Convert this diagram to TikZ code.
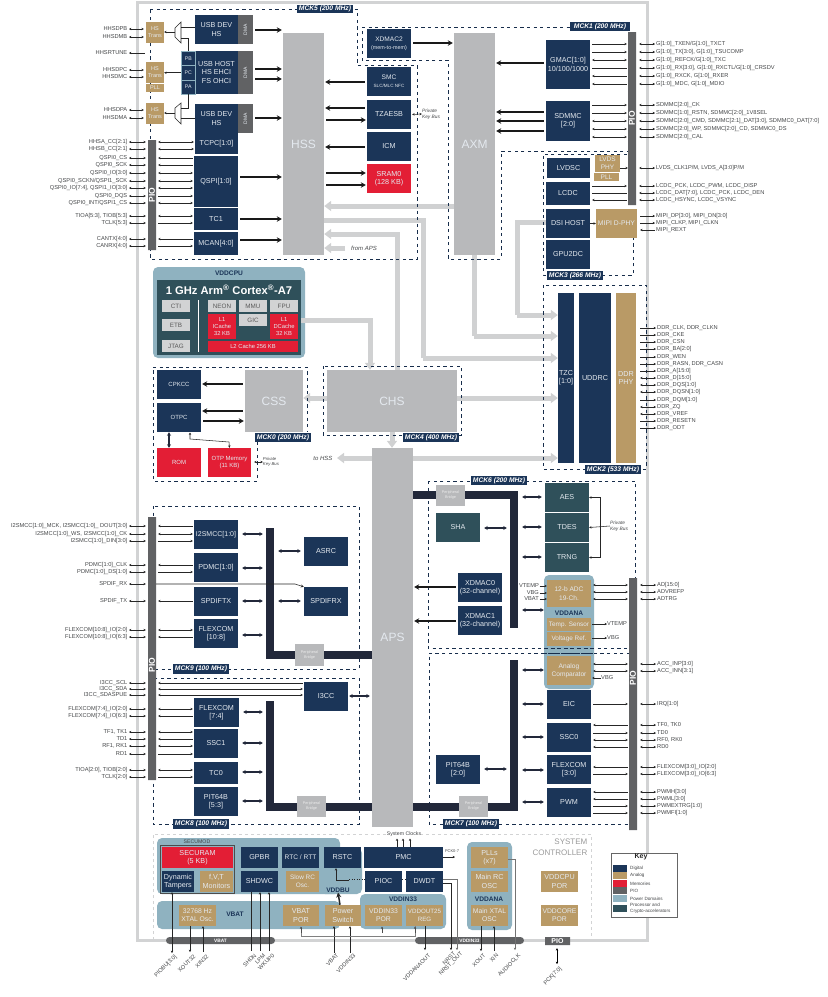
\documentclass[tikz,border=0pt]{standalone}
\usepackage{fontspec}
\setmainfont{Liberation Sans}
\usetikzlibrary{arrows.meta,shapes.misc,calc}
\pgfdeclarelayer{back}\pgfdeclarelayer{bus}\pgfsetlayers{back,bus,main}
\definecolor{cnv}{HTML}{1B3558}
\definecolor{ctn}{HTML}{B99A66}
\definecolor{crd}{HTML}{E31E35}
\definecolor{cpio}{HTML}{616264}
\definecolor{cdom}{HTML}{8FB2C0}
\definecolor{ccry}{HTML}{2F505A}
\definecolor{chub}{HTML}{B8B9BB}
\definecolor{cbus}{HTML}{D0D1D2}
\definecolor{cbar}{HTML}{22283A}
\definecolor{cfr}{HTML}{D2D3D4}
\definecolor{clab}{HTML}{444648}
\definecolor{ctx}{HTML}{E4E9EF}
\newcommand{\fs}[2]{\fontsize{#1}{#2}\selectfont}
\newcommand{\mybx}[7]{%
  \pgfmathsetmacro\bxw{#5-#3}\pgfmathsetmacro\bxh{#6-#4}%
  \pgfmathsetmacro\bxx{(#5+#3)/2}\pgfmathsetmacro\bxy{(#6+#4)/2}%
  \node[#1,minimum width=\bxw pt,minimum height=\bxh pt] (#2) at (\bxx,\bxy) {#7};}
\newcommand{\mylin}[4][pn]{\draw[#1,shorten <=2pt,shorten >=1pt] (#2 |- 0,#4) -- (#3 |- 0,#4);}
\newcount\pincnt
\tikzset{
  base/.style={inner sep=0pt,align=center,text=ctx,font=\fs{7.2}{8.4}},
  dig/.style={base,fill=cnv},
  ana/.style={base,fill=ctn},
  mem/.style={base,fill=crd},
  cry/.style={base,fill=ccry},
  dma/.style={base,fill=cpio},
  hub/.style={base,fill=chub,font=\fs{12}{14}},
  brg/.style={base,fill=chub,font=\fs{3.8}{5},text=white!85!gray},
  barf/.style={inner sep=0pt,fill=cbar},
  core/.style={base,fill=cfr,text=black!65,font=\fs{6.3}{7.5}},
  piobar/.style={chamfered rectangle,chamfered rectangle xsep=2pt,chamfered rectangle ysep=2pt,inner sep=0pt,fill=cpio},
  pillbar/.style={rounded rectangle,inner sep=0pt,fill=cpio},
  piot/.style={rotate=90,inner sep=0pt,text=white,font=\bfseries\fs{8.5}{10}},
  lbl/.style={inner sep=0pt,text=clab,font=\fs{5.7}{6}},
  pkb/.style={inner sep=0pt,text=clab,align=left,font=\itshape\fs{4.8}{6.2}},
  mck/.style={base,fill=cnv,text=white,font=\bfseries\itshape\fs{6.7}{7.5}},
  dom/.style={inner sep=0pt,text=cnv,font=\bfseries\fs{6.6}{8}},
  dashb/.style={draw=cnv!85!black,line width=0.9pt,dash pattern=on 3.2pt off 3.4pt},
  domf/.style={fill=cdom,rounded corners=5pt},
  pn/.style={line width=0.55pt,black!85,{Stealth[length=2.4pt,width=2.4pt]}-{Stealth[length=2.4pt,width=2.4pt]}},
  pr/.style={line width=0.55pt,black!85,-{Stealth[length=2.4pt,width=2.4pt]}},
  pl/.style={line width=0.55pt,black!85,{Stealth[length=2.4pt,width=2.4pt]}-},
  pp/.style={line width=0.55pt,black!85},
  thk/.style={line width=1.5pt,black!90,-{Stealth[length=5pt,width=5.5pt]}},
  dbl/.style={line width=1.3pt,cbar,{Stealth[length=3.5pt,width=4pt]}-{Stealth[length=3.5pt,width=4pt]}},
  bus/.style={line width=5pt,cbus,-{Triangle[length=7pt,width=10pt]}},
  busn/.style={line width=5pt,cbus},
}
\newcommand{\dbq}[3]{\draw[dbl,shorten <=4pt,shorten >=3pt] (#1 |- 0,#3) -- (#2 |- 0,#3);}
\begin{document}
\begin{tikzpicture}[x=1pt,y=-1pt]
\useasboundingbox (0,0) rectangle (828,997);
% ---------- frame and domains
\begin{pgfonlayer}{back}
\draw[cfr,line width=3pt] (137.5,2) rectangle (647,940);
\draw[cfr,line width=0.5pt,dashed] (153,940) -- (153,834) -- (397,834);
\draw[cfr,line width=0.5pt,dashed] (420,834) -- (591,834) -- (591,940);
\fill[domf] (157,838) rectangle (340,894);
\fill[domf] (320,848) rectangle (362,894);
\fill[domf] (157,901) rectangle (340,929);
\fill[domf] (360,894) rectangle (446,929);
\fill[domf] (467,842) rectangle (512,930);
\fill[domf] (544,575) rectangle (594,689);
\fill[domf] (153,267) rectangle (305,358);
\end{pgfonlayer}
% ---------- clock domain outlines
\draw[dashb] (150,9) -- (357,9) -- (357,65) -- (417,65) -- (417,259) -- (150,259) -- cycle;
\draw[dashb] (362,27) -- (630,27);
\draw[dashb] (630,151) -- (501,151) -- (501,259) -- (448,259) -- (448,60) -- (362,60) -- (362,27);
\draw[dashb] (627,154) -- (543,154) -- (543,275) -- (633,275) -- (633,238);
\draw[dashb] (543,285) rectangle (646,469);
\draw[dashb] (153,367) -- (307,367) -- (307,432);
\draw[dashb] (257,435) -- (257,481) -- (153,481) -- (153,367);
\draw[dashb] (323,366) rectangle (461,435);
\draw[dashb] (428,481) rectangle (635,648);
\draw[dashb] (630,653) -- (429,653) -- (429,824) -- (630,824);
\draw[dashb] (153,506) rectangle (359,669);
\draw[dashb] (153,678) rectangle (359,824);
\mybx{mck}{m5}{297}{5}{353}{13}{MCK5 (200 MHz)}
\mybx{mck}{m1}{570}{22}{630}{31}{MCK1 (200 MHz)}
\mybx{mck}{m3}{547}{271}{603}{280}{MCK3 (266 MHz)}
\mybx{mck}{m2}{585}{465}{641}{474}{MCK2 (533 MHz)}
\mybx{mck}{m0}{255}{433}{311}{442}{MCK0 (200 MHz)}
\mybx{mck}{m4}{403}{433}{459}{442}{MCK4 (400 MHz)}
\mybx{mck}{m6}{471}{476}{527}{485}{MCK6 (200 MHz)}
\mybx{mck}{m7}{443}{819}{499}{829}{MCK7 (100 MHz)}
\mybx{mck}{m9}{173}{664}{229}{674}{MCK9 (100 MHz)}
\mybx{mck}{m8}{173}{819}{229}{829}{MCK8 (100 MHz)}
% ---------- hubs
\mybx{hub}{hss}{283}{33}{324}{255}{HSS}
\mybx{hub}{axm}{454}{33}{495}{255}{AXM}
\mybx{hub}{chs}{327}{370}{457}{432}{CHS}
\mybx{hub}{css}{245}{370}{303}{432}{CSS}
\mybx{hub}{aps}{372}{448}{413}{827}{APS}
% ---------- PIO bars
\mybx{piobar}{pioa}{148}{140}{156}{250}{}
\node[piot] at (pioa) {PIO};
\mybx{piobar}{piob}{628}{32}{636}{205}{}
\node[piot] at (piob) {PIO};
\mybx{piobar}{pioc}{148}{517}{156}{780}{}
\node[piot] at (152,665) {PIO};
\mybx{piobar}{piod}{629}{578}{637}{830}{}
\node[piot] at (633,678) {PIO};
% ---------- top left
\mybx{dig}{usba}{195}{15}{238}{44}{USB DEV\\HS}
\mybx{dma}{dmaa}{238}{15}{253}{44}{}
\node[rotate=90,base,font=\fs{5}{6}] at (dmaa) {DMA};
\mybx{dig}{usbh}{195}{51}{238}{94}{USB HOST\\HS EHCI\\FS OHCI}
\mybx{dma}{dmah}{238}{51}{253}{94}{}
\node[rotate=90,base,font=\fs{5}{6}] at (dmah) {DMA};
\mybx{dma}{dmab}{238}{104}{253}{133}{}
\node[rotate=90,base,font=\fs{5}{6}] at (dmab) {DMA};
\mybx{dig}{usbb}{195}{104}{238}{133}{USB DEV\\HS}
\mybx{dig}{tcpc}{195}{133}{238}{154}{TCPC[1:0]}
\mybx{dig,draw=cdom,line width=.5pt,font=\fs{5.2}{6}}{pb}{181.5}{51.5}{195}{65.5}{PB}
\mybx{dig,draw=cdom,line width=.5pt,font=\fs{5.2}{6}}{pc}{181.5}{65.5}{195}{80}{PC}
\mybx{dig,draw=cdom,line width=.5pt,font=\fs{5.2}{6}}{pa}{181.5}{80}{195}{94}{PA}
\mybx{dig}{qspi}{194}{156}{238}{207}{QSPI[1:0]}
\mybx{dig}{tca}{194}{208}{238}{230}{TC1}
\mybx{dig}{mcan}{194}{232}{238}{255}{MCAN[4:0]}
\mybx{ana,font=\fs{5.5}{7}}{tra}{146}{22}{164}{43}{HS\\Trans}
\mybx{ana,font=\fs{5.5}{7}}{trc}{146}{62}{164}{83}{HS\\Trans}
\mybx{ana,font=\fs{5.5}{7}}{pllc}{146}{84}{164}{92}{PLL}
\mybx{ana,font=\fs{5.5}{7}}{trb}{146}{103}{164}{124}{HS\\Trans}
\draw[pp,fill=white] (175,28) coordinate (muxa) -- (181,22) -- (181,43) -- (175,37) -- cycle;
\draw[pp,fill=white] (175,108) coordinate (muxb) -- (181,103) -- (181,124) -- (175,118) -- cycle;
\coordinate (muxae) at (181,27);\coordinate (muxaf) at (181,38);\coordinate (muxaw) at (175,32);
\coordinate (muxbe) at (181,118);\coordinate (muxbf) at (181,108);\coordinate (muxbw) at (175,113);
\draw[pp] (usba.west |- muxae) -- (muxae);
\draw[pp] (muxaf) -| (pb.north);
\draw[pp] (usbb.west |- muxbe) -- (muxbe);
\draw[pp] (muxbf) -| (pa.south);
\draw[pr] (muxaw) -- (tra.east |- muxaw);
\draw[pr] (muxbw) -- (trb.east |- muxbw);
\draw[pr] (pc.west) -- (trc.east |- pc.west);
% left pin labels top
\newcommand{\plq}[3]{\global\advance\pincnt by 1
  \node[lbl,anchor=east] (L\the\pincnt) at (127.5,#1) {#2};
  \draw[pn,shorten <=1.5pt,shorten >=2pt] (L\the\pincnt.east) -- (#3 |- 0,#1);}
\plq{29}{HHSDPB}{tra.west}\plq{37}{HHSDMB}{tra.west}
\plq{70}{HHSDPC}{trc.west}\plq{77}{HHSDMC}{trc.west}
\plq{110}{HHSDPA}{trb.west}\plq{118}{HHSDMA}{trb.west}
\node[lbl,anchor=east] (rtu) at (127.5,53) {HHSRTUNE};
\coordinate (rtue) at (145,53);
\draw[pl,shorten <=1.5pt] (rtu.east) -- (rtue);
\foreach \y/\tx in {142/HHSA\_CC[2:1],149/HHSB\_CC[2:1],158/QSPI0\_CS,165/QSPI0\_SCK,173/QSPI0\_IO[3:0],181/{QSPI0\_SCKN/QSPI1\_SCK},188/{QSPI0\_IO[7:4], QSPI1\_IO[3:0]},196/QSPI0\_DQS,203/{QSPI0\_INT/QSPI1\_CS},216/{TIOA[5:3], TIOB[5:3]},223/TCLK[5:3],239/CANTX[4:0],246/CANRX[4:0]}{\plq{\y}{\tx}{pioa.west}}
\mylin[pn]{pioa.east}{tcpc.west}{142}\mylin[pn]{pioa.east}{tcpc.west}{149}
\mylin[pl]{pioa.east}{qspi.west}{158}\mylin[pl]{pioa.east}{qspi.west}{165}
\mylin[pn]{pioa.east}{qspi.west}{173}\mylin[pn]{pioa.east}{qspi.west}{181}\mylin[pn]{pioa.east}{qspi.west}{188}
\mylin[pr]{pioa.east}{qspi.west}{196}\mylin[pn]{pioa.east}{qspi.west}{203}
\mylin[pn]{pioa.east}{tca.west}{216}\mylin[pr]{pioa.east}{tca.west}{223}
\mylin[pl]{pioa.east}{mcan.west}{239}\mylin[pr]{pioa.east}{mcan.west}{246}
\mylin[thk]{dmaa.east}{hss.west}{30}
\mylin[thk]{dmah.east}{hss.west}{69}\mylin[thk]{dmah.east}{hss.west}{79}
\mylin[thk]{dmab.east}{hss.west}{118}
\mylin[thk]{qspi.east}{hss.west}{177}\mylin[thk]{tca.east}{hss.west}{219}\mylin[thk]{mcan.east}{hss.west}{240}
% ---------- top middle
\mybx{dig,font=\fs{6.6}{8}}{xd2}{367}{29}{411}{58}{XDMAC2\\{\fs{5.4}{7}(mem-to-mem)}}
\mybx{dig,font=\fs{6.6}{8}}{smc}{367}{67}{411}{96}{SMC\\{\fs{4.6}{6}SLC/MLC NFC}}
\mybx{dig}{tz}{367}{100}{411}{129}{TZAESB}
\mybx{dig}{icm}{367}{132}{411}{161}{ICM}
\mybx{mem}{srama}{367}{164}{411}{193}{SRAM0\\(128 KB)}
\mylin[thk]{xd2.east}{axm.west}{43}
\mylin[thk]{smc.west}{hss.east}{82}\mylin[thk]{tz.west}{hss.east}{108}
\mylin[thk]{hss.east}{tz.west}{120}\mylin[thk]{icm.west}{hss.east}{147}
\mylin[thk]{hss.east}{srama.west}{173}\mylin[thk]{hss.east}{srama.west}{185}
\node[pkb] (pk1) at (431,114) {Private\\Key Bus};
\draw[pn] (tz.east) ++(1,0) -- (pk1.west);
\node[pkb,font=\itshape\fs{6}{7}] (fa) at (364,248) {from APS};
% ---------- top right
\mybx{dig}{gmac}{546}{40}{590}{89}{GMAC[1:0]\\10/100/1000}
\mybx{dig}{sd}{546}{101}{590}{141}{SDMMC\\{[2:0]}}
\mybx{dig}{lvds}{547}{158}{590}{178}{LVDSC}
\mybx{dig}{lcdc}{546}{182}{590}{205}{LCDC}
\mybx{dig}{dsi}{546}{209}{590}{238}{DSI HOST}
\mybx{dig}{gpu}{546}{240}{590}{269}{GPU2DC}
\mybx{ana,font=\fs{6.5}{8}}{lphy}{595}{155}{620}{172}{LVDS\\PHY}
\mybx{ana,font=\fs{6.5}{8}}{lpll}{594}{173}{619}{181}{PLL}
\mybx{ana,font=\fs{6.8}{8}}{mphy}{596}{209}{637}{238}{MIPI D-PHY}
\mylin[thk]{gmac.west}{axm.east}{63}
\mylin[thk]{sd.west}{axm.east}{112}\mylin[thk]{sd.west}{axm.east}{121}\mylin[thk]{sd.west}{axm.east}{131}
\draw[pr] (dsi.east) -- (mphy.west);
\draw[pr] (lphy.east |- 0,168) -- (piob.west |- 0,168);
\mylin[pr]{gmac.east}{piob.west}{44}\mylin[pr]{gmac.east}{piob.west}{52}\mylin[pn]{gmac.east}{piob.west}{60}
\mylin[pp]{gmac.east}{piob.west}{68}\mylin[pl]{gmac.east}{piob.west}{76}\mylin[pl]{gmac.east}{piob.west}{84}
\mylin[pr]{sd.east}{piob.west}{105}\mylin[pr]{sd.east}{piob.west}{113}\mylin[pn]{sd.east}{piob.west}{121}
\mylin[pn]{sd.east}{piob.west}{129}\mylin[pn]{sd.east}{piob.west}{137}
\mylin[pr]{lcdc.east}{piob.west}{186}\mylin[pp]{lcdc.east}{piob.west}{193}\mylin[pl]{lcdc.east}{piob.west}{200}
\newcommand{\pRq}[3]{\global\advance\pincnt by 1
  \node[lbl,anchor=west] (L\the\pincnt) at (656,#1) {#2};
  \draw[pn,shorten <=3pt,shorten >=1pt] (#3 |- 0,#1) -- (L\the\pincnt.west);}
\foreach \y/\tx in {44/{G[1:0]\_TXEN/G[1:0]\_TXCT},52/{G[1:0]\_TX[3:0], G[1:0]\_TSUCOMP},60/{G[1:0]\_REFCK/G[1:0]\_TXC},68/{G[1:0]\_RX[3:0], G[1:0]\_RXCTL/G[1:0]\_CRSDV},76/{G[1:0]\_RXCK, G[1:0]\_RXER},84/{G[1:0]\_MDC, G[1:0]\_MDIO},105/SDMMC[2:0]\_CK,113/{SDMMC[1:0]\_RSTN, SDMMC[2:0]\_1V8SEL},121/{SDMMC[2:0]\_CMD, SDMMC[2:1]\_DAT[3:0], SDMMC0\_DAT[7:0]},129/{SDMMC[2:0]\_WP, SDMMC[2:0]\_CD, SDMMC0\_DS},137/SDMMC[2:0]\_CAL,168/{LVDS\_CLK1P/M, LVDS\_A[3:0]P/M},186/{LCDC\_PCK, LCDC\_PWM, LCDC\_DISP},193/{LCDC\_DAT[7:0], LCDC\_PCK, LCDC\_DEN},200/{LCDC\_HSYNC, LCDC\_VSYNC}}{\pRq{\y}{\tx}{piob.east}}
\foreach \y/\tx/\st in {216/{MIPI\_DP[3:0], MIPI\_DN[3:0]}/pr,223/{MIPI\_CLKP, MIPI\_CLKN}/pr,230/MIPI\_REXT/pl}{
  \node[lbl,anchor=west] (M\y) at (656,\y) {\tx};
  \draw[\st,shorten <=3pt,shorten >=1pt] (mphy.east |- 0,\y) -- (M\y.west);}
% ---------- Cortex
\node[dom] (vc) at (229,273) {VDDCPU};
\mybx{base,fill=ccry}{cpu}{157}{280}{301}{355}{}
\node[inner sep=0pt,text=white,font=\bfseries\fs{11.2}{13}] (cput) at (229,290) {1 GHz Arm\textsuperscript{®} Cortex\textsuperscript{®}-A7};
\mybx{core}{cti}{162}{300}{190}{312}{CTI}
\mybx{core}{etb}{162}{319}{190}{331}{ETB}
\mybx{core}{jtag}{162}{340}{190}{352}{JTAG}
\mybx{core}{neon}{208}{300}{236}{312}{NEON}
\mybx{core}{mmu}{239}{300}{267}{312}{MMU}
\mybx{core}{fpu}{270}{300}{298}{312}{FPU}
\mybx{core}{gic}{239}{314}{267}{326}{GIC}
\mybx{mem,font=\fs{5.8}{7}}{lia}{208}{314}{236}{339}{L1\\ICache\\32 KB}
\mybx{mem,font=\fs{5.8}{7}}{lib}{270}{314}{298}{339}{L1\\DCache\\32 KB}
\mybx{mem,font=\fs{5.8}{7}}{lii}{208}{341}{298}{352}{L2 Cache 256 KB}
\draw[white,line width=.8pt] (198,300) coordinate (vsep) -- (198,352);
% ---------- MCK0
\mybx{dig,font=\fs{6}{7}}{cpk}{157}{370}{201}{399}{CPKCC}
\mybx{dig,font=\fs{6}{7}}{otpc}{157}{403}{201}{432}{OTPC}
\mybx{mem,font=\fs{6}{7}}{rom}{157}{448}{201}{477}{ROM}
\mybx{mem,font=\fs{6}{7.5}}{otp}{208}{448}{251}{477}{OTP Memory\\(11 KB)}
\mylin[thk]{css.west}{cpk.east}{384}\mylin[thk]{css.west}{otpc.east}{411}\mylin[thk]{otpc.east}{css.west}{421}
\draw[dbl] (rom.north -| 169,0) -- (otpc.south -| 169,0);
\draw[pn] (190,432.5) -- (190,439) -- (229,442) -- (otp.north);
\node[pkb,font=\itshape\fs{4.3}{5.5}] (pk0) at (271,462) {Private\\Key Bus};
\draw[pn] (otp.east |- pk0.west) ++(3,0) -- (pk0.west);
\node[pkb,font=\itshape\fs{6}{7}] (th) at (323,458) {to HSS};
% ---------- MCK2
\mybx{dig}{tzc}{558}{293}{574}{463}{TZC\\{[1:0]}}
\mybx{dig}{udd}{579}{293}{611}{463}{UDDRC}
\mybx{ana}{dph}{616}{293}{636}{463}{DDR\\PHY}
\foreach \y/\tx/\st in {328/{DDR\_CLK, DDR\_CLKN}/pr,335/DDR\_CKE/pr,342/DDR\_CSN/pr,349/DDR\_BA[2:0]/pr,357/DDR\_WEN/pr,364/{DDR\_RASN, DDR\_CASN}/pr,371/DDR\_A[15:0]/pr,378/DDR\_D[15:0]/pn,385/DDR\_DQS[1:0]/pn,392/DDR\_DQSN[1:0]/pn,400/DDR\_DQM[1:0]/pr,407/DDR\_ZQ/pn,414/DDR\_VREF/pn,421/DDR\_RESETN/pr,428/DDR\_ODT/pr}{
  \node[lbl,anchor=west] (D\y) at (657,\y) {\tx};
  \draw[\st,shorten <=4pt,shorten >=1pt] (dph.east |- 0,\y) -- (D\y.west);}
% ---------- MCK6 right
\mybx{barf}{bhu}{413}{491}{518}{499}{}
\mybx{barf}{bvu}{510}{491}{518}{628}{}
\mybx{brg}{bru}{436}{485}{465}{506}{Peripheral\\Bridge}
\mybx{cry}{sha}{436}{513}{480}{542}{SHA}
\mybx{cry}{aes}{545}{483}{589}{512}{AES}
\mybx{cry}{tdes}{545}{513}{589}{542}{TDES}
\mybx{cry}{trng}{545}{543}{589}{572}{TRNG}
\mybx{dig}{xd0}{458}{573}{502}{602}{XDMAC0\\(32-channel)}
\mybx{dig}{xd1}{458}{606}{502}{635}{XDMAC1\\(32-channel)}
\mylin[thk]{xd0.west}{aps.east}{587}\mylin[thk]{xd1.west}{aps.east}{621}
\dbq{bvu.east}{aes.west}{497}\dbq{bvu.east}{tdes.west}{527}\dbq{bvu.east}{trng.west}{557}
\dbq{sha.east}{bvu.west}{528}
\node[pkb] (pk6) at (619,526) {Private\\Key Bus};
\draw[pp,{Stealth[length=2.4pt,width=2.4pt]}-{Stealth[length=2.4pt,width=2.4pt]}] (aes.east |- 0,497.5) -- (600,497.5) -- (600,557.5) -- (trng.east |- 0,557.5);
\draw[pp,{Stealth[length=2.4pt,width=2.4pt]}-] (tdes.east) -- (pk6.west);
\mybx{ana,font=\fs{6.6}{8.8}}{adc}{547}{580}{591}{607}{12-b ADC\\19-Ch.}
\dbq{bvu.east}{adc.west}{610}
\node[dom] (vda) at (569,613) {VDDANA};
\mybx{ana,font=\fs{6.4}{7.5}}{tmp}{547}{618}{591}{631}{Temp. Sensor}
\mybx{ana,font=\fs{6.4}{7.5}}{vrf}{547}{632}{591}{646}{Voltage Ref.}
\mybx{ana,font=\fs{6.6}{8.2}}{acmp}{547}{656}{591}{685}{Analog\\Comparator}
\draw[dashb] (544,648) -- (594,648);\draw[dashb] (544,653) -- (594,653);
\foreach \y/\tx/\xx in {586/VTEMP/539,593/VBG/539,599/VBAT/539}{
  \node[lbl,anchor=east] (A\y) at (\xx,\y) {\tx};
  \draw[pr,shorten <=0.5pt] (A\y.east) -- (adc.west |- 0,\y);}
\mylin[pn]{adc.east}{piod.west}{585}\mylin[pn]{adc.east}{piod.west}{592}\mylin[pn]{adc.east}{piod.west}{599}
\mylin[pn]{acmp.east}{piod.west}{664}\mylin[pn]{acmp.east}{piod.west}{671}
\node[lbl,anchor=west] (vt) at (607,624) {VTEMP};\draw[pr,shorten <=1pt] (tmp.east |- vt) -- (vt.west);
\node[lbl,anchor=west] (vb) at (607,638) {VBG};\draw[pr,shorten <=1pt] (vrf.east |- vb) -- (vb.west);
\node[lbl,anchor=west] (vb2) at (601,678) {VBG};\draw[pr,shorten >=1pt] (vb2.west) -- (acmp.east |- vb2);
% ---------- MCK7 right
\mybx{barf}{bhl}{413}{803}{518}{811}{}
\mybx{barf}{bvl}{510}{660}{518}{811}{}
\mybx{brg}{brl}{459}{796}{488}{817}{Peripheral\\Bridge}
\mybx{dig}{eic}{547}{690}{591}{719}{EIC}
\mybx{dig}{ssc0}{547}{723}{591}{752}{SSC0}
\mybx{dig}{flx0}{547}{755}{591}{784}{FLEXCOM\\{[3:0]}}
\mybx{dig}{pwm}{547}{788}{591}{817}{PWM}
\mybx{dig}{pit0}{436}{755}{480}{784}{PIT64B\\{[2:0]}}
\dbq{bvl.east}{acmp.west}{670}\dbq{bvl.east}{eic.west}{704}\dbq{bvl.east}{ssc0.west}{737}
\dbq{bvl.east}{flx0.west}{770}\dbq{bvl.east}{pwm.west}{802}
\dbq{pit0.east}{bvl.west}{769}
\mylin[pr]{eic.east}{piod.west}{704}
\mylin[pl]{ssc0.east}{piod.west}{725}\mylin[pr]{ssc0.east}{piod.west}{733}\mylin[pn]{ssc0.east}{piod.west}{740}\mylin[pl]{ssc0.east}{piod.west}{747}
\mylin[pl]{flx0.east}{piod.west}{767}\mylin[pr]{flx0.east}{piod.west}{774}
\mylin[pl]{pwm.east}{piod.west}{792}\mylin[pl]{pwm.east}{piod.west}{799}\mylin[pr]{pwm.east}{piod.west}{806}\mylin[pr]{pwm.east}{piod.west}{813}
\foreach \y/\tx in {585/AD[15:0],592/ADVREFP,599/ADTRG,664/ACC\_INP[3:0],671/ACC\_INN[3:1],704/IRQ[1:0],725/{TF0, TK0},733/TD0,740/{RF0, RK0},747/RD0,767/FLEXCOM[3:0]\_IO[2:0],774/FLEXCOM[3:0]\_IO[6:3],792/PWMH[3:0],799/PWML[3:0],806/PWMEXTRG[1:0],813/PWMFI[1:0]}{
  \node[lbl,anchor=west] (P\y) at (657,\y) {\tx};
  \draw[pn,shorten <=3pt,shorten >=1pt] (piod.east |- 0,\y) -- (P\y.west);}
% ---------- MCK9 / MCK8 left
\mybx{dig,font=\fs{7}{8}}{i2s}{194}{520}{238}{549}{I2SMCC[1:0]}
\mybx{dig}{pdm}{194}{553}{238}{582}{PDMC[1:0]}
\mybx{dig}{sptx}{194}{587}{238}{616}{SPDIFTX}
\mybx{dig}{flx10}{194}{619}{238}{648}{FLEXCOM\\{[10:8]}}
\mybx{barf}{b9v}{266}{528}{274}{659}{}
\mybx{barf}{b9h}{266}{651}{372}{659}{}
\mybx{brg}{br9}{295}{644}{324}{666}{Peripheral\\Bridge}
\mybx{dig}{asrc}{304}{537}{348}{566}{ASRC}
\mybx{dig}{sprx}{304}{587}{348}{616}{SPDIFRX}
\mybx{dig}{i3c}{304}{682}{348}{711}{I3CC}
\mybx{barf}{b8v}{266}{701}{274}{811}{}
\mybx{barf}{b8h}{266}{803}{372}{811}{}
\mybx{brg}{br8}{297}{796}{326}{817}{Peripheral\\Bridge}
\mybx{dig}{flx7}{194}{698}{239}{727}{FLEXCOM\\{[7:4]}}
\mybx{dig}{ssc1}{194}{729}{238}{758}{SSC1}
\mybx{dig}{tc0}{194}{762}{238}{784}{TC0}
\mybx{dig}{pit5}{194}{787}{238}{816}{PIT64B\\{[5:3]}}
\dbq{i2s.east}{b9v.west}{534}\dbq{pdm.east}{b9v.west}{568}\dbq{sptx.east}{b9v.west}{601}\dbq{flx10.east}{b9v.west}{635}
\dbq{b9v.east}{asrc.west}{551}\dbq{b9v.east}{sprx.west}{601}
\dbq{flx7.east}{b8v.west}{712}\dbq{ssc1.east}{b8v.west}{743}\dbq{tc0.east}{b8v.west}{772}\dbq{pit5.east}{b8v.west}{801}
\draw[dbl,shorten <=1pt,shorten >=2pt] (i3c.east |- 0,696) -- (aps.west |- 0,696);
\mylin[pl]{pioc.east}{i2s.west}{526}\mylin[pn]{pioc.east}{i2s.west}{534}\mylin[pr]{pioc.east}{i2s.west}{541}
\mylin[pl]{pioc.east}{pdm.west}{565}\mylin[pr]{pioc.east}{pdm.west}{572}
\mylin[pl]{pioc.east}{sptx.west}{601}
\mylin[pn]{pioc.east}{flx10.west}{630}\mylin[pl]{pioc.east}{flx10.west}{637}
\draw[pp,-{Stealth[length=3pt,width=3pt]}] (pioc.east |- 0,584) -- (295,584) -- (sprx.north west);
\mylin[pl]{pioc.east}{i3c.west}{683}\mylin[pn]{pioc.east}{i3c.west}{689}\mylin[pn]{pioc.east}{i3c.west}{695}
\mylin[pn]{pioc.east}{flx7.west}{709}\mylin[pl]{pioc.east}{flx7.west}{716}
\mylin[pn]{pioc.east}{ssc1.west}{732}\mylin[pl]{pioc.east}{ssc1.west}{739}\mylin[pn]{pioc.east}{ssc1.west}{746}\mylin[pr]{pioc.east}{ssc1.west}{754}
\mylin[pn]{pioc.east}{tc0.west}{770}\mylin[pr]{pioc.east}{tc0.west}{777}
\foreach \y/\tx in {526/{I2SMCC[1:0]\_MCK, I2SMCC[1:0]\_ DOUT[3:0]},534/{I2SMCC[1:0]\_WS, I2SMCC[1:0]\_CK},541/I2SMCC[1:0]\_DIN[3:0],565/PDMC[1:0]\_CLK,572/PDMC[1:0]\_DS[1:0],584/SPDIF\_RX,601/SPDIF\_TX,630/FLEXCOM[10:8]\_IO[2:0],637/FLEXCOM[10:8]\_IO[6:3],683/I3CC\_SCL,689/I3CC\_SDA,695/I3CC\_SDASPUE,709/FLEXCOM[7:4]\_IO[2:0],716/FLEXCOM[7:4]\_IO[6:3],732/{TF1, TK1},739/TD1,746/{RF1, RK1},754/RD1,770/{TIOA[2:0], TIOB[2:0]},777/TCLK[2:0]}{\plq{\y}{\tx}{pioc.west}}
% ---------- system controller
\mybx{base,fill=cdom,draw=black!70,line width=.8pt}{secf}{160.5}{845}{234.5}{893.5}{}
\node[inner sep=0pt,text=clab,font=\fs{5.2}{6}] (secm) at (197,841.5) {SECUMOD};
\mybx{mem}{secr}{162}{847}{233}{868}{SECURAM\\(5 KB)}
\mybx{dig}{dyn}{162}{871}{194}{892}{Dynamic\\Tampers}
\mybx{ana}{fvt}{200}{871}{233}{892}{f,V,T\\Monitors}
\mybx{dig}{gpbr}{241}{847}{278}{868}{GPBR}
\mybx{dig}{shd}{241}{871}{278}{892}{SHDWC}
\mybx{dig,font=\fs{6.6}{8}}{rtc}{282}{847}{319}{868}{RTC / RTT}
\mybx{ana,font=\fs{6.4}{8}}{srco}{286}{871}{319}{892}{Slow RC\\Osc.}
\mybx{dig}{rstc}{324}{847}{361}{868}{RSTC}
\mybx{dig}{pmc}{364}{847}{443}{868}{PMC}
\mybx{dig}{piocb}{365}{871}{402}{892}{PIOC}
\mybx{dig}{dwdt}{406}{871}{443}{892}{DWDT}
\mybx{ana}{plls}{471}{847}{508}{868}{PLLs\\(x7)}
\mybx{ana}{mrc}{471}{871}{508}{892}{Main RC\\OSC}
\node[dom] (vd3) at (489,899) {VDDANA};
\mybx{ana,font=\fs{6.8}{8}}{mxt}{471}{905}{508}{926}{Main XTAL\\OSC}
\mybx{ana}{vcp}{541}{871}{578}{892}{VDDCPU\\POR}
\mybx{ana,font=\fs{6.8}{8}}{vcr}{541}{905}{578}{926}{VDDCORE\\POR}
\mybx{ana,font=\fs{6.8}{8}}{xt32}{179}{905}{216}{926}{32768 Hz\\XTAL Osc.}
\node[dom] (vb1) at (235,914) {VBAT};
\mybx{ana}{vbp}{283}{905}{319}{926}{VBAT\\POR}
\mybx{ana}{psw}{325}{905}{361}{926}{Power\\Switch}
\mybx{ana,font=\fs{6.8}{8}}{vip}{365}{905}{402}{926}{VDDIN33\\POR}
\mybx{ana,font=\fs{6.2}{8}}{vor}{406}{905}{443}{926}{VDDOUT25\\REG}
\node[dom] (vi3) at (403,899) {VDDIN33};
\node[dom] (vbu) at (338,890) {VDDBU};
\mybx{pillbar}{bvb}{166}{937}{275}{944}{}
\node[inner sep=0pt,text=white,font=\bfseries\fs{4.8}{6}] at (bvb) {VBAT};
\mybx{pillbar}{bvi}{415}{937}{524}{944}{}
\node[inner sep=0pt,text=white,font=\bfseries\fs{4.8}{6}] at (bvi) {VDDIN33};
\mybx{piobar,chamfered rectangle xsep=3pt,chamfered rectangle ysep=3.5pt}{bpi}{545}{937}{570}{945}{}
\node[inner sep=0pt,text=white,font=\bfseries\fs{7}{8}] at (bpi) {PIO};
\node[inner sep=0pt,text=clab,fill=white,font=\fs{5.2}{6}] (sck) at (404,834) {System Clocks};
\foreach \xx in {397,403,410}{\draw[pr,line width=.7pt] (pmc.north -| \xx,0) -- (\xx,838.5);}
\node[inner sep=0pt,text=clab,font=\fs{4}{5}] (pck) at (452,851) {PCK0-7};
\coordinate (pcke) at (455,857);
\draw[pr] (pmc.east |- pcke) -- (pcke);
\node[inner sep=0pt,text=black!40,align=right,font=\fs{8}{11}] (sysc) at (560,847.5) {SYSTEM\\CONTROLLER};
% rotated bottom labels
\newcommand{\rlab}[4]{\node[lbl,rotate=45,anchor=north east] (#1) at (#2,#3) {#4};}
\rlab{npb}{174}{954}{PIOBU[3:0]}
\rlab{nxo}{193}{954}{XOUT32}
\rlab{nxi}{206}{954}{XIN32}
\rlab{nsh}{254}{953}{SHDN}
\rlab{nlp}{263}{953}{LPM}
\rlab{nwk}{272}{953}{WKUP0}
\rlab{nvb}{336}{953}{VBAT}
\rlab{nvi}{353}{953}{VDDIN33}
\rlab{nva}{428}{953}{VDDANAOUT}
\rlab{nrs}{453}{951}{NRST}
\rlab{nro}{460}{951}{NRST\_OUT}
\rlab{nxt}{483}{953}{XOUT}
\rlab{nxn}{496}{953}{XIN}
\rlab{nau}{518}{953}{AUDIOCLK}
\rlab{npk}{559}{966}{PCK[7:0]}
\draw[pn,line width=.8pt] (dyn.south -| 172,0) -- (172,953);
\draw[pr,line width=.8pt] (xt32.south -| 190,0) -- (190,952);
\draw[pl,line width=.8pt] (xt32.south -| 203,0) -- (203,952);
\draw[pp,line width=.8pt] (shd.south -| 251,0) -- (251,951);
\draw[pr,line width=.8pt,{Stealth[length=2.4pt,width=2.4pt]}-] (shd.south -| 260,0) -- (260,951);
\draw[pr,line width=.8pt,{Stealth[length=2.4pt,width=2.4pt]}-] (shd.south -| 269,0) -- (269,951);
\draw[pl,line width=.8pt] (psw.south -| 334,0) -- (334,953);
\draw[pl,line width=.8pt] (psw.south -| 350,0) -- (350,953);
\draw[pr,line width=.8pt] (vor.south -| 425,0) -- (425,950);
\draw[pr,line width=.8pt] (mxt.south -| 481,0) -- (481,951);
\draw[pl,line width=.8pt] (mxt.south -| 494,0) -- (494,951);
\draw[line width=.8pt,{Stealth[length=2.4pt,width=2.4pt]}-{Stealth[length=2.4pt,width=2.4pt]}] (bpi.south -| 557,0) ++(0,3) -- (557,964);
\draw[black!50,line width=.9pt] (vbp.south -| 301,0) ++(0,1) -- (301,936) -- (415,936) -- (vor.south -| 415,0);
\foreach \xx in {301,382,415}{\draw[pr,line width=.7pt,black!70] (\xx,933) -- (\xx,926.5);}
\draw[line width=1.5pt,black!85,-{Stealth[length=5pt,width=5pt]}] (psw.north) ++(-3,0) -- (vbu.south);
\draw[pp,{Stealth[length=2.4pt,width=2.4pt]}-] (rstc.south -| 336,0) -- (336,880) -- (349,880);
\draw[pp,dotted,line width=.8pt] (349,879) -- (piocb.west |- 0,879);
\draw[pp,dotted,line width=.8pt] (piocb.east |- 0,879) -- (dwdt.west |- 0,879);
\draw[pp,{Stealth[length=2.4pt,width=2.4pt]}-] (451,950) -- (451,883) -- (dwdt.east |- 0,883);
\draw[black!55,line width=.9pt,-{Stealth[length=2.4pt,width=2.4pt]}] (dwdt.east |- 0,879) -- (457,879) -- (457,950);
\draw[black!55,line width=.9pt,-{Stealth[length=2.4pt,width=2.4pt]}] (plls.east |- 0,859) -- (515,859) -- (515,950);
% key
\mybx{base,fill=white,draw=black!60,line width=.6pt}{key}{611}{853}{677}{917}{}
\node[inner sep=0pt,text=black!85,font=\bfseries\fs{7}{8}] (keyt) at (641,857) {Key};
\foreach \ya/\yb/\cc/\tx/\kk in {865/871.5/cnv/Digital/a,872/879/ctn/Analog/b,880/887/crd/Memories/c,887/894/cpio/PIO/d,895/902/cdom/Power Domains/e,905/912/ccry/{Processor and\\Crypto-accelerators}/f}{
  \mybx{base,fill=\cc}{sw\kk}{613}{\ya}{627}{\yb}{}
  \node[inner sep=0pt,text=clab,align=left,anchor=west,font=\fs{4.6}{5.6}] at (630,{(\ya+\yb)/2}) {\tx};}
% ---------- grey buses
\begin{pgfonlayer}{bus}
\draw[bus] (axm.west |- 0,206) -- (hss.east |- 0,206);
\draw[bus] (chs.north -| 397,0) -- (397,234) -- (hss.east |- 0,234);
\draw[busn] (hss.east |- 0,220) -- (423,220) -- (423,358) coordinate (ba) ;
\draw[bus] (423,358) -- (tzc.west |- 0,358);
\draw[busn] (dsi.west |- 0,222) -- (517,222) -- (517,315);
\draw[bus] (517,315) -- (tzc.west |- 0,315);
\draw[busn] (axm.south -| 474,0) -- (474,336);
\draw[bus] (474,336) -- (tzc.west |- 0,336);
\draw[bus] (chs.east |- 0,398) -- (tzc.west |- 0,398);
\draw[bus] (aps.east |- 0,458) -- (tzc.west |- 0,458);
\draw[bus] (aps.west |- 0,458) -- (337,458);
\draw[bus] (chs.west |- 0,398) -- (css.east |- 0,398);
\draw[bus] (cpu.east |- 0,320) -- (370,320) -- (chs.north -| 370,0);
\draw[bus] (chs.south -| 392,0) -- (aps.north -| 392,0);
\coordinate (fap) at (345,248);
\draw[bus] (fap) -- (hss.east |- fap);
\end{pgfonlayer}
\end{tikzpicture}
\end{document}
